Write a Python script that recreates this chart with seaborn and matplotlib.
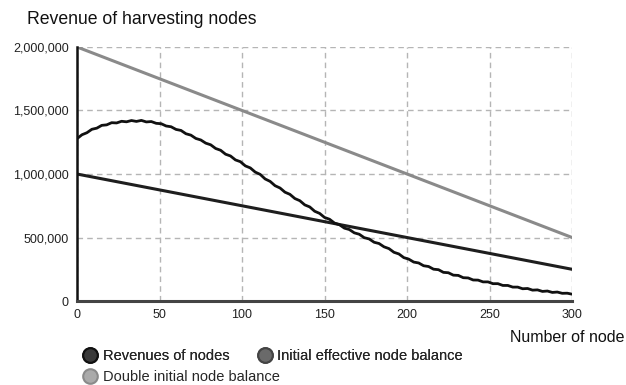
import matplotlib
matplotlib.use("Agg")
import matplotlib.pyplot as plt
import seaborn as sns
import pandas as pd
from matplotlib.lines import Line2D
from matplotlib.ticker import FuncFormatter

# ---- data ----
rev_nodes = list(range(0, 301, 3))
# revenues of nodes, in thousands
rev_k = [1278, 1309, 1325, 1352, 1361, 1383, 1387, 1404, 1402, 1415, 1411, 1421, 1414, 1422, 1410,
         1413, 1399, 1396, 1378, 1372, 1351, 1343, 1317, 1306, 1280, 1268, 1243, 1230, 1201, 1187,
         1156, 1142, 1111, 1097, 1064, 1048, 1015, 997, 961, 942, 908, 890, 857, 840, 807,
         790, 757, 741, 707, 690, 658, 644, 614, 601, 574, 563, 537, 526, 499, 489,
         463, 453, 427, 413, 384, 371, 342, 330, 307, 300, 278, 272, 251, 247, 226,
         223, 204, 202, 184, 182, 166, 165, 151, 151, 137, 137, 123, 123, 110, 110,
         97, 99, 86, 88, 76, 79, 68, 71, 61, 62, 54]
revenues = [v * 1000 for v in rev_k]

bal_nodes = [0, 50, 100, 150, 200, 250, 300]
initial_balance = [1000000, 875000, 750000, 625000, 500000, 375000, 250000]
double_balance = [2000000, 1750000, 1500000, 1250000, 1000000, 750000, 500000]

x_ticks = [0, 50, 100, 150, 200, 250, 300]
y_ticks = [0, 500000, 1000000, 1500000, 2000000]

labels = ["Revenues of nodes", "Initial effective node balance", "Double initial node balance"]

# ---- style ----
sns.set_style("white")
plt.rcParams["font.family"] = ["Liberation Sans", "DejaVu Sans"]

fig = plt.figure(figsize=(6.26, 3.85), dpi=100)
ax = fig.add_axes([0.123, 0.218, 0.791, 0.660])

rev_df = pd.DataFrame({"node": rev_nodes, "value": revenues})
bal_df = pd.DataFrame({"node": bal_nodes, "initial": initial_balance, "double": double_balance})

sns.lineplot(data=bal_df, x="node", y="double", ax=ax, color="#8a8a8a", linewidth=2.2, zorder=3)
sns.lineplot(data=bal_df, x="node", y="initial", ax=ax, color="#1e1e1e", linewidth=2.2, zorder=4)
sns.lineplot(data=rev_df, x="node", y="value", ax=ax, color="#111111", linewidth=2.0, zorder=5)

ax.set_xlim(0, 300)
ax.set_ylim(0, 2000000)
ax.set_xticks(x_ticks)
ax.set_yticks(y_ticks)
ax.yaxis.set_major_formatter(FuncFormatter(lambda v, p: f"{int(v):,}"))
ax.tick_params(axis="both", length=0, labelsize=9, colors="#222222", pad=6)
ax.set_xlabel("")
ax.set_ylabel("")

ax.grid(True, linestyle=(0, (4, 3)), color="#b5b5b5", linewidth=1.0)
for s in ["top", "right"]:
    ax.spines[s].set_visible(False)
ax.spines["left"].set_color("#111111")
ax.spines["left"].set_linewidth(1.8)
ax.spines["bottom"].set_color("#444444")
ax.spines["bottom"].set_linewidth(2.2)
ax.spines["left"].set_zorder(6)
ax.spines["bottom"].set_zorder(6)

fig.text(27 / 626, 1 - 20 / 385, "Revenue of harvesting nodes", fontsize=12.7,
         ha="left", va="center", color="#111111")
fig.text(624 / 626, 1 - 338 / 385, "Number of node", fontsize=11.5,
         ha="right", va="center", color="#111111")


def dot(face, edge):
    return Line2D([], [], linestyle="none", marker="o", markersize=10.5,
                  markerfacecolor=face, markeredgecolor=edge, markeredgewidth=1.5)


h_rev = dot("#3a3a3a", "#111111")
h_init = dot("#6a6a6a", "#444444")
h_dbl = dot("#aaaaaa", "#8a8a8a")

leg_kw = dict(loc="upper left", frameon=False, fontsize=10.5, handletextpad=0.3,
              borderpad=0, handlelength=1.1)
leg1 = fig.legend([h_rev, h_init], [labels[0], labels[1]], ncol=2, columnspacing=1.9,
                  bbox_to_anchor=(75 / 626, 1 - 342 / 385), **leg_kw)
fig.add_artist(leg1)
fig.legend([h_dbl], [labels[2]], ncol=1,
           bbox_to_anchor=(75 / 626, 1 - 363 / 385), **leg_kw)

fig.savefig("out.png", dpi=100)
